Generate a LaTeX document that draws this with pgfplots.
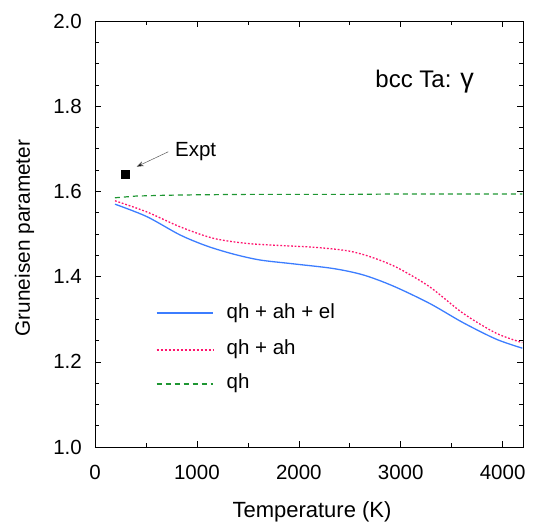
\documentclass[border=0pt]{standalone}
\usepackage{fontspec}
\setmainfont{Liberation Sans}
\usepackage{pgfplots}
\pgfplotsset{compat=1.18}
\usetikzlibrary{arrows.meta}
\definecolor{cblue}{RGB}{60,125,255}
\definecolor{cred}{RGB}{255,20,110}
\definecolor{cgreen}{RGB}{30,150,50}
\begin{document}
\begin{tikzpicture}
\useasboundingbox (-95bp,-77bp) rectangle (441bp,447bp);
\begin{axis}[
  scale only axis,
  width=428bp, height=426bp,
  xmin=0, xmax=4200, ymin=1.0, ymax=2.0,
  xtick={0,1000,2000,3000,4000},
  minor xtick={500,1500,2500,3500},
  ytick={1.0,1.2,1.4,1.6,1.8,2.0},
  minor ytick={1.05,1.1,1.15,1.25,1.3,1.35,1.45,1.5,1.55,1.65,1.7,1.75,1.85,1.9,1.95},
  tick align=inside,
  major tick length=6bp, minor tick length=4bp,
  tick style={black, line width=0.6pt},
  axis line style={line width=0.8pt},
  /pgf/number format/assume math mode=true,
  scaled x ticks=false,
  xticklabel={\pgfmathprintnumber[fixed,precision=0,1000 sep={}]{\tick}},
  yticklabel={\pgfmathprintnumber[fixed,fixed zerofill,precision=1]{\tick}},
  ticklabel style={font=\fontsize{20.5bp}{24bp}\selectfont},
  xticklabel style={anchor=base, inner sep=0pt, yshift=-32bp},
  yticklabel style={anchor=east, inner sep=0pt, xshift=-13bp},
  clip=false,
]
% qh (green dashed)
\addplot[color=cgreen, line width=1.2pt, dash pattern=on 5bp off 4bp] coordinates {
 (196,1.585) (400,1.589) (700,1.591) (1000,1.592) (1500,1.593) (2000,1.593) (2500,1.593) (3000,1.594) (3500,1.594) (4193,1.594)};
% qh + ah (red dotted)
\addplot[color=cred, line width=1.3pt, dash pattern=on 1.8bp off 1.8bp, smooth] coordinates {
 (196,1.578) (507,1.552) (833,1.517) (1160,1.490) (1487,1.478) (1814,1.473) (2141,1.469) (2467,1.461) (2696,1.447) (2958,1.422) (3284,1.376) (3611,1.314) (3938,1.267) (4193,1.245)};
% qh + ah + el (blue solid)
\addplot[color=cblue, line width=1.3pt, smooth] coordinates {
 (196,1.570) (507,1.541) (833,1.498) (1095,1.472) (1356,1.453) (1618,1.439) (1944,1.430) (2337,1.419) (2631,1.404) (2925,1.378) (3284,1.337) (3611,1.292) (3938,1.253) (4193,1.232)};
% Expt
\addplot[only marks, mark=square*, mark size=4bp, black] coordinates {(300,1.641)};
% legend
\addplot[color=cblue, line width=1.5pt] coordinates {(605,1.314) (1157,1.314)};
\addplot[draw=cred, line width=1.7pt, dash pattern=on 2bp off 2bp] coordinates {(605,1.2285) (1157,1.2285)};
\addplot[draw=cgreen, line width=1.6pt, dash pattern=on 5bp off 4bp] coordinates {(605,1.1485) (1157,1.1485)};
\node[anchor=west, inner sep=0pt, font=\fontsize{20.5bp}{24bp}\selectfont] at (axis cs:1290,1.314) {qh + ah + el};
\node[anchor=west, inner sep=0pt, font=\fontsize{20.5bp}{24bp}\selectfont] at (axis cs:1290,1.229) {qh + ah};
\node[anchor=west, inner sep=0pt, font=\fontsize{20.5bp}{24bp}\selectfont] at (axis cs:1290,1.149) {qh};
% annotations
\draw[gray!70!black, line width=0.5pt, -{Stealth[length=7bp,width=5bp,fill=black]}] (axis cs:719,1.693) -- (axis cs:409,1.658);
\node[anchor=west, inner sep=0pt, font=\fontsize{20.5bp}{24bp}\selectfont] at (axis cs:784,1.693) {Expt};
\node[anchor=center, inner sep=0pt, font=\fontsize{24bp}{28bp}\selectfont] at (axis cs:3235,1.858) {bcc Ta: {\fontsize{27bp}{28bp}\selectfont γ}};
\end{axis}
\node[anchor=base, font=\fontsize{22bp}{26bp}\selectfont] at (217bp,-70bp) {Temperature (K)};
\node[anchor=base, rotate=90, font=\fontsize{20.8bp}{24bp}\selectfont] at (-65bp,209bp) {Gruneisen parameter};
\end{tikzpicture}
\end{document}
